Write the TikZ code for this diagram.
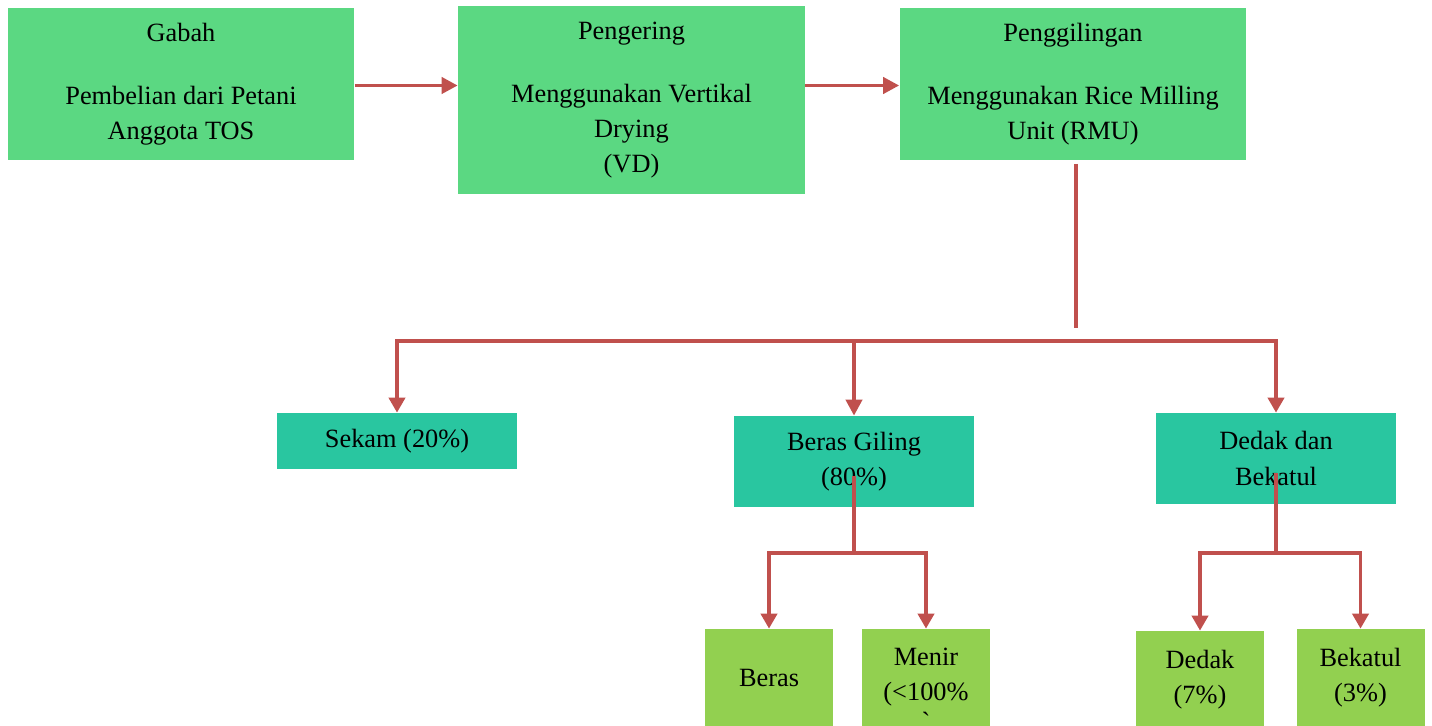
\documentclass[tikz,border=0pt]{standalone}
\usepackage{fontspec}
\setmainfont{Liberation Serif}
\usetikzlibrary{arrows.meta,positioning}
\definecolor{procgreen}{HTML}{5BD882}
\definecolor{outteal}{HTML}{29C6A0}
\definecolor{leafgreen}{HTML}{92D050}
\definecolor{flowred}{HTML}{C0504D}
\tikzset{
  box/.style={inner sep=0pt, align=center, font=\fontsize{15}{20}\selectfont},
  procbox/.style={box, fill=procgreen, minimum width=6.94cm},
  outbox/.style={box, fill=outteal, minimum width=4.8cm},
  leafbox/.style={box, fill=leafgreen, minimum width=2.56cm, minimum height=1.96cm},
  link/.style={draw=flowred, line width=2.2pt},
  arr/.style={link, -{Triangle[length=0.32cm,width=0.32cm]}},
  arrs/.style={link, {Triangle[length=0.3cm,width=0.32cm]}-{Triangle[length=0.3cm,width=0.32cm]}}
}
\begin{document}
\begin{tikzpicture}[x=0.02cm, y=-0.02cm]
  \path[use as bounding box, fill=white] (0,0) rectangle (1432,726);

  % proses utama
  \node[procbox, minimum height=3.06cm] (gabah) at (181,84)
    {Gabah\\[16pt]Pembelian dari Petani\\Anggota TOS};
  \node[procbox, minimum height=3.76cm] (pengering) at (631.5,100)
    {Pengering\\[16pt]Menggunakan Vertikal\\Drying\\(VD)};
  \node[procbox, minimum height=3.06cm] (giling) at (1073,84)
    {Penggilingan\\[16pt]Menggunakan Rice Milling\\Unit (RMU)};

  % hasil penggilingan
  \node[outbox, minimum height=1.12cm] (sekam) at (397,441) {Sekam (20\%)};
  \node[outbox, minimum height=1.82cm] (bgiling) at (854,461.5) {Beras Giling\\(80\%)};
  \node[outbox, minimum height=1.82cm] (dbk) at (1276,458.5) {Dedak dan\\Bekatul};

  \node[leafbox] (beras) at (769,678) {Beras};
  \node[leafbox, minimum height=2.4cm] (menir) at (926,689) {Menir\\(<100\%\\[-3pt]\textasciigrave};
  \node[leafbox] (dedak) at (1200,680) {Dedak\\(7\%)};
  \node[leafbox] (bekatul) at (1360.5,678) {Bekatul\\(3\%)};

  \coordinate (bus) at (0,341);
  \coordinate (bus2) at (0,553);
  \coordinate (stemtop) at (1076,164);
  \coordinate (stemend) at (1076,328);

  \draw[arr] ([yshift=-0.03cm]gabah.east) -- ([yshift=-0.03cm]gabah.east -| pengering.west);
  \draw[arr] ([yshift=-0.03cm]giling.west -| pengering.east) -- ([yshift=-0.03cm]giling.west);
  \draw[link] (stemtop) -- (stemend);

  \draw[arrs] (sekam.north) -- (sekam.north |- bus) -- (dbk.north |- bus) -- (dbk.north);
  \draw[arr] (bgiling.north |- bus) -- (bgiling.north);

  \draw[link] ([yshift=-0.29cm]bgiling.center) -- (bgiling.center |- bus2);
  \draw[arrs] (beras.north) -- (beras.north |- bus2) -- (menir.north |- bus2) -- (menir.north);
  \draw[link] ([yshift=-0.29cm]dbk.center) -- (dbk.center |- bus2);
  \draw[arrs] (dedak.north) -- (dedak.north |- bus2) -- (bekatul.north |- bus2) -- (bekatul.north);
\end{tikzpicture}
\end{document}
